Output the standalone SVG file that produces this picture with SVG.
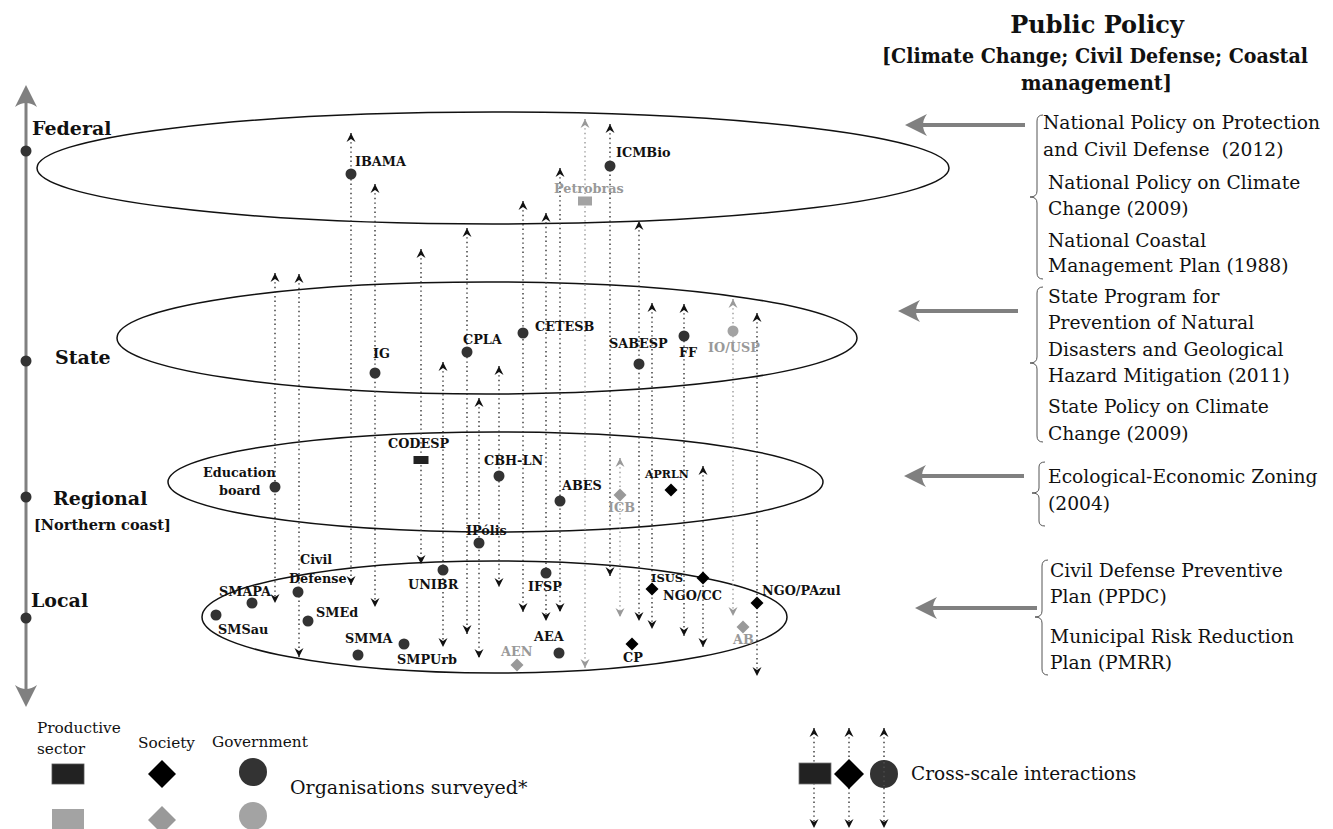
<svg xmlns="http://www.w3.org/2000/svg" width="1333" height="829" viewBox="0 0 1333 829">
<style>
.lvl{fill:none;stroke:#111;stroke-width:1.5}
.lvlname{font-family:"DejaVu Serif",serif;font-weight:bold;font-size:19px;fill:#111}
.lbl{font-family:"DejaVu Serif",serif;font-weight:bold;font-size:12.8px;fill:#111}
.lg{fill:#999}
.gov{fill:#333}
.govg{fill:#a3a3a3}
.soc{fill:#000}
.socg{fill:#999}
.prod{fill:#222}
.prodg{fill:#a3a3a3}
.dl{fill:none;stroke:#333;stroke-width:1.4;stroke-dasharray:1.4 3.2;marker-start:url(#sa);marker-end:url(#sa)}
.dlg{stroke:#999;marker-start:url(#sag);marker-end:url(#sag)}
.big{fill:none;stroke:#808080;stroke-width:4;marker-end:url(#ba)}
.axis{fill:none;stroke:#808080;stroke-width:3;marker-start:url(#ba);marker-end:url(#ba)}
.br{fill:none;stroke:#555;stroke-width:1}
.pol{font-family:"DejaVu Serif",serif;font-size:18.7px;fill:#111;white-space:pre}
.hd{font-family:"DejaVu Serif",serif;font-weight:bold;fill:#111;text-anchor:middle}
.leg{font-family:"DejaVu Serif",serif;font-size:15.3px;fill:#111}
.leg2{font-family:"DejaVu Serif",serif;font-size:19px;fill:#111}
</style>
<defs>
<marker id="sa" viewBox="-10 -5 11 10" refX="0" refY="0" markerWidth="11" markerHeight="10" markerUnits="userSpaceOnUse" orient="auto-start-reverse">
<path d="M0,0 L-9,-4.5 L-6,0 L-9,4.5 Z" fill="#111"/>
</marker>
<marker id="sag" viewBox="-10 -5 11 10" refX="0" refY="0" markerWidth="11" markerHeight="10" markerUnits="userSpaceOnUse" orient="auto-start-reverse">
<path d="M0,0 L-9,-4.5 L-6,0 L-9,4.5 Z" fill="#999"/>
</marker>
<marker id="ba" viewBox="-24 -13 26 26" refX="-14" refY="0" markerWidth="26" markerHeight="26" markerUnits="userSpaceOnUse" orient="auto-start-reverse">
<path d="M0,0 L-22,-11 Q-14,0 -22,11 Z" fill="#808080"/>
</marker>
</defs>
<rect width="1333" height="829" fill="#fff"/>

<g id="axis">
<path class="axis" d="M26,99 L26,693"/>
<circle cx="26" cy="151" r="5.5" class="gov"/>
<circle cx="26" cy="361" r="5.5" class="gov"/>
<circle cx="26" cy="497" r="5.5" class="gov"/>
<circle cx="26" cy="618" r="5.5" class="gov"/>
</g>

<g id="level-federal">
<ellipse class="lvl" cx="493" cy="168" rx="456" ry="56"/>
<text class="lvlname" x="32" y="135">Federal</text>
</g>
<g id="level-state">
<ellipse class="lvl" cx="487" cy="338" rx="370" ry="56"/>
<text class="lvlname" x="55" y="364">State</text>
</g>
<g id="level-regional">
<ellipse class="lvl" cx="495.5" cy="482" rx="327.5" ry="50"/>
<text class="lvlname" x="53" y="505">Regional</text>
<text class="lbl" x="34" y="530" style="font-size:14.5px">[Northern coast]</text>
</g>
<g id="level-local">
<ellipse class="lvl" cx="494.5" cy="617" rx="292.5" ry="56"/>
<text class="lvlname" x="31" y="607">Local</text>
</g>

<g id="connectors">
<path class="dl" d="M275,273 L275,603"/>
<path class="dl" d="M299,274 L299,657"/>
<path class="dl" d="M351,133 L351,585"/>
<path class="dl" d="M375,184 L375,607"/>
<path class="dl" d="M421,249 L421,564"/>
<path class="dl" d="M443,362 L443,647"/>
<path class="dl" d="M467,228 L467,634"/>
<path class="dl" d="M479,398 L479,658"/>
<path class="dl" d="M499,366 L499,587"/>
<path class="dl" d="M523,201 L523,612"/>
<path class="dl" d="M546,213 L546,621"/>
<path class="dl" d="M560,168 L560,612"/>
<path class="dl dlg" d="M585,119 L585,668"/>
<path class="dl" d="M610,124 L610,576"/>
<path class="dl dlg" d="M620,458 L620,617"/>
<path class="dl" d="M639,221 L639,621"/>
<path class="dl" d="M652,303 L652,629"/>
<path class="dl" d="M684,304 L684,636"/>
<path class="dl" d="M703,466 L703,647"/>
<path class="dl dlg" d="M733,299 L733,616"/>
<path class="dl" d="M757,313 L757,676"/>
<path class="big" d="M1025,125 L919,125"/>
<path class="big" d="M1018,311 L912,311"/>
<path class="big" d="M1024,476 L918,476"/>
<path class="big" d="M1037,608 L929,608"/>
</g>

<g id="node-IBAMA"><circle cx="351" cy="174" r="5.5" class="gov"/><text class="lbl" x="355" y="166">IBAMA</text></g>
<g id="node-ICMBio"><circle cx="610" cy="166" r="5.5" class="gov"/><text class="lbl" x="616" y="157">ICMBio</text></g>
<g id="node-Petrobras"><rect x="578" y="196.5" width="14" height="9" class="prodg"/><text class="lbl lg" x="554" y="193">Petrobras</text></g>

<g id="node-IG"><circle cx="375" cy="373" r="5.5" class="gov"/><text class="lbl" x="373" y="358">IG</text></g>
<g id="node-CPLA"><circle cx="467" cy="352" r="5.5" class="gov"/><text class="lbl" x="463" y="344">CPLA</text></g>
<g id="node-CETESB"><circle cx="523" cy="333" r="5.5" class="gov"/><text class="lbl" x="535" y="331">CETESB</text></g>
<g id="node-SABESP"><circle cx="639" cy="364" r="5.5" class="gov"/><text class="lbl" x="609" y="348">SABESP</text></g>
<g id="node-FF"><circle cx="684" cy="336" r="5.5" class="gov"/><text class="lbl" x="679" y="357">FF</text></g>
<g id="node-IOUSP"><circle cx="733" cy="331" r="5.5" class="govg"/><text class="lbl lg" x="708" y="352">IO/USP</text></g>

<g id="node-Education-board"><circle cx="275" cy="487" r="5.5" class="gov"/><text class="lbl" x="203" y="477">Education</text><text class="lbl" x="219" y="495">board</text></g>
<g id="node-CODESP"><rect x="413.5" y="456" width="15" height="8" class="prod"/><text class="lbl" x="388" y="448">CODESP</text></g>
<g id="node-CBH-LN"><circle cx="499" cy="476" r="5.5" class="gov"/><text class="lbl" x="484" y="465">CBH-LN</text></g>
<g id="node-ABES"><circle cx="560" cy="501" r="5.5" class="gov"/><text class="lbl" x="562" y="490">ABES</text></g>
<g id="node-ICB"><polygon points="620,488.5 626.5,495 620,501.5 613.5,495" class="socg"/><text class="lbl lg" x="608" y="512">ICB</text></g>
<g id="node-APRLN"><polygon points="671,483.5 677.5,490 671,496.5 664.5,490" class="soc"/><text class="lbl" x="645" y="478" style="font-size:11px">APRLN</text></g>
<g id="node-IPolis"><circle cx="479" cy="543" r="5.5" class="gov"/><text class="lbl" x="466" y="535">IPólis</text></g>

<g id="node-SMAPA"><circle cx="252" cy="603" r="5.5" class="gov"/><text class="lbl" x="219" y="596">SMAPA</text></g>
<g id="node-SMSau"><circle cx="216" cy="615" r="5.5" class="gov"/><text class="lbl" x="218" y="634">SMSau</text></g>
<g id="node-Civil-Defense"><circle cx="298" cy="592" r="5.5" class="gov"/><text class="lbl" x="300" y="564">Civil</text><text class="lbl" x="289" y="583">Defense</text></g>
<g id="node-SMEd"><circle cx="308" cy="621" r="5.5" class="gov"/><text class="lbl" x="316" y="617">SMEd</text></g>
<g id="node-SMMA"><circle cx="358" cy="655" r="5.5" class="gov"/><text class="lbl" x="345" y="643">SMMA</text></g>
<g id="node-SMPUrb"><circle cx="404" cy="644" r="5.5" class="gov"/><text class="lbl" x="397" y="664">SMPUrb</text></g>
<g id="node-UNIBR"><circle cx="443" cy="570" r="5.5" class="gov"/><text class="lbl" x="408" y="589">UNIBR</text></g>
<g id="node-IFSP"><circle cx="546" cy="573" r="5.5" class="gov"/><text class="lbl" x="528" y="591">IFSP</text></g>
<g id="node-AEA"><circle cx="559" cy="653" r="5.5" class="gov"/><text class="lbl" x="534" y="641">AEA</text></g>
<g id="node-AEN"><polygon points="517,658.5 523.5,665 517,671.5 510.5,665" class="socg"/><text class="lbl lg" x="501" y="656">AEN</text></g>
<g id="node-CP"><polygon points="632,637.5 638.5,644 632,650.5 625.5,644" class="soc"/><text class="lbl" x="623" y="662">CP</text></g>
<g id="node-ISUS"><polygon points="652,582.5 658.5,589 652,595.5 645.5,589" class="soc"/><text class="lbl" x="651" y="582" style="font-size:11.5px">ISUS</text></g>
<g id="node-NGO-CC"><polygon points="703,571.5 709.5,578 703,584.5 696.5,578" class="soc"/><text class="lbl" x="663" y="600">NGO/CC</text></g>
<g id="node-NGO-PAzul"><polygon points="757,596.5 763.5,603 757,609.5 750.5,603" class="soc"/><text class="lbl" x="762" y="595">NGO/PAzul</text></g>
<g id="node-AB"><polygon points="743,620.5 749.5,627 743,633.5 736.5,627" class="socg"/><text class="lbl lg" x="733" y="644">AB</text></g>

<g id="title">
<text class="hd" x="1097" y="33" style="font-size:24px">Public Policy</text>
<text class="hd" x="1095" y="63" style="font-size:19.5px" textLength="426" lengthAdjust="spacingAndGlyphs">[Climate Change; Civil Defense; Coastal</text>
<text class="hd" x="1096.5" y="90" style="font-size:19.5px" textLength="151" lengthAdjust="spacingAndGlyphs">management]</text>
</g>

<g id="policy-federal">
<path class="br" d="M1043,115 Q1037,115 1037,121 L1037,191 Q1037,197 1030,197 Q1037,197 1037,203 L1037,273 Q1037,279 1043,279"/>
<text class="pol" x="1043" y="129">National Policy on Protection</text>
<text class="pol" x="1043" y="156" xml:space="preserve">and Civil Defense  (2012)</text>
<text class="pol" x="1048" y="189">National Policy on Climate</text>
<text class="pol" x="1048" y="215">Change (2009)</text>
<text class="pol" x="1048" y="247">National Coastal</text>
<text class="pol" x="1048" y="272">Management Plan (1988)</text>
</g>
<g id="policy-state">
<path class="br" d="M1043,287 Q1037,287 1037,293 L1037,357 Q1037,363 1030,363 Q1037,363 1037,369 L1037,436 Q1037,442 1043,442"/>
<text class="pol" x="1048" y="303">State Program for</text>
<text class="pol" x="1048" y="329">Prevention of Natural</text>
<text class="pol" x="1048" y="356">Disasters and Geological</text>
<text class="pol" x="1048" y="382">Hazard Mitigation (2011)</text>
<text class="pol" x="1048" y="413">State Policy on Climate</text>
<text class="pol" x="1048" y="440">Change (2009)</text>
</g>
<g id="policy-regional">
<path class="br" d="M1045,462 Q1039,462 1039,467 L1039,488 Q1039,493 1032,493 Q1039,493 1039,498 L1039,521 Q1039,526 1045,526"/>
<text class="pol" x="1048" y="483">Ecological-Economic Zoning</text>
<text class="pol" x="1048" y="510">(2004)</text>
</g>
<g id="policy-local">
<path class="br" d="M1048,560 Q1042,560 1042,566 L1042,611 Q1042,617 1035,617 Q1042,617 1042,623 L1042,669 Q1042,675 1048,675"/>
<text class="pol" x="1050" y="577">Civil Defense Preventive</text>
<text class="pol" x="1050" y="603">Plan (PPDC)</text>
<text class="pol" x="1050" y="643">Municipal Risk Reduction</text>
<text class="pol" x="1050" y="669">Plan (PMRR)</text>
</g>

<g id="legend-organisations">
<text class="leg" x="37" y="733">Productive</text>
<text class="leg" x="37" y="754">sector</text>
<text class="leg" x="138" y="748">Society</text>
<text class="leg" x="212" y="747">Government</text>
<rect x="52" y="764" width="32" height="20" class="prod" stroke="#555" stroke-width="0.8"/>
<polygon points="162,760 176,774 162,788 148,774" class="soc"/>
<circle cx="253" cy="772" r="14" class="gov"/>
<rect x="52" y="809" width="32" height="22" class="prodg"/>
<polygon points="162,806 176,820 162,834 148,820" class="socg"/>
<circle cx="253" cy="816" r="14" class="govg"/>
<text class="leg2" x="290" y="794">Organisations surveyed*</text>
</g>

<g id="legend-cross-scale">
<path class="dl" d="M814,728 L814,828"/>
<path class="dl" d="M849,728 L849,828"/>
<path class="dl" d="M884,728 L884,828"/>
<rect x="799" y="763" width="32" height="21" class="prod" stroke="#777" stroke-width="0.8"/>
<polygon points="849,759 864,774 849,789 834,774" class="soc"/>
<circle cx="884" cy="774" r="14" class="gov"/>
<path d="M884,762 L884,786" stroke="#555" stroke-width="1.2" stroke-dasharray="1.4 3.2"/>
<text class="leg2" x="911" y="780" style="font-size:18.5px">Cross-scale interactions</text>
</g>
</svg>
